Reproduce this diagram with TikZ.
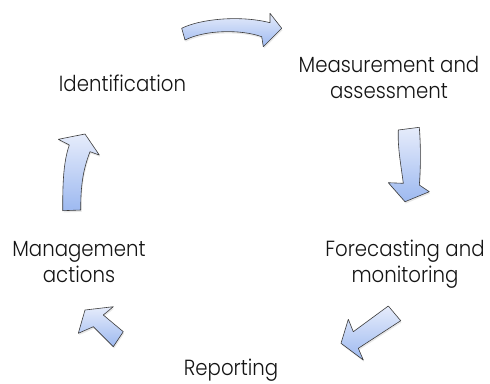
\documentclass[tikz,border=0pt]{standalone}
\usepackage{fontspec}
\setmainfont{Poppins Light}[FakeStretch=0.9]
\usetikzlibrary{shadows}
\definecolor{arrowtop}{HTML}{E6ECFB}
\definecolor{arrowbot}{HTML}{9DB9F0}
\definecolor{arrowline}{HTML}{3C3C3C}
\definecolor{labeltext}{HTML}{141414}
\begin{document}
\begin{tikzpicture}[x=1bp,y=-1bp,
  lbl/.style={font=\fontsize{22}{25.5}\selectfont, text=labeltext, align=center, inner sep=0pt},
  blockarrow/.style={draw=arrowline, line width=0.6bp, line join=round,
    top color=arrowtop, bottom color=arrowbot,
    drop shadow={opacity=0.18, shadow xshift=0.8bp, shadow yshift=-1.8bp}}]
\useasboundingbox (0,0) rectangle (490,383);
\fill[white] (0,0) rectangle (490,383);
% labels
\node[lbl, anchor=base] (ident) at (122.5,91.7) {Identification};
\node[lbl, anchor=base] (meas) at (389,98.3) {Measurement and\\assessment};
\node[lbl, anchor=base] (fore) at (405,282) {Forecasting and\\monitoring};
\node[lbl, anchor=base] (mgmt) at (79,282) {Management\\actions};
\node[lbl, anchor=base] (rep) at (231,375) {Reporting};
% top curved arrow: Identification -> Measurement
\path[blockarrow] (181.7,28.3) .. controls (200,19) and (240,15) .. (270,22.7)
  -- (270,13.3) -- (281.7,28.3) -- (263.3,46.7) -- (261.7,36.7)
  .. controls (240,29) and (205,30) .. (185,40) -- cycle;
% right arrow: Measurement -> Forecasting
\path[blockarrow] (398.3,130) -- (419.3,127.3)
  .. controls (421,150) and (420.5,170) .. (419.3,185)
  -- (429.3,191.7) -- (405,201.7) -- (388.3,182.7) -- (403.3,183.3)
  .. controls (401,165) and (397.5,148) .. (398.3,130) -- cycle;
% bottom-right arrow: Forecasting -> Reporting
\path[blockarrow] (388.3,306) -- (400.7,320.7) -- (358.3,348.3) -- (363.3,360)
  -- (341,343.3) -- (348.3,319.3) -- (353.3,331.7) -- cycle;
% bottom-left arrow: Reporting -> Management
\path[blockarrow] (85,310) -- (113.3,306.7) -- (103.3,315) -- (123.3,331.7)
  -- (113.3,346.7) -- (93.3,326.7) -- (78.3,333.3) -- cycle;
% left arrow: Management -> Identification
\path[blockarrow] (62.7,210.7) -- (80.7,210)
  .. controls (80.7,185) and (83,170) .. (90,151.7)
  -- (99.3,155) -- (85,134) -- (58.3,139.3) -- (69.3,145)
  .. controls (63,163) and (62.7,186) .. (62.7,210.7) -- cycle;
\end{tikzpicture}
\end{document}
